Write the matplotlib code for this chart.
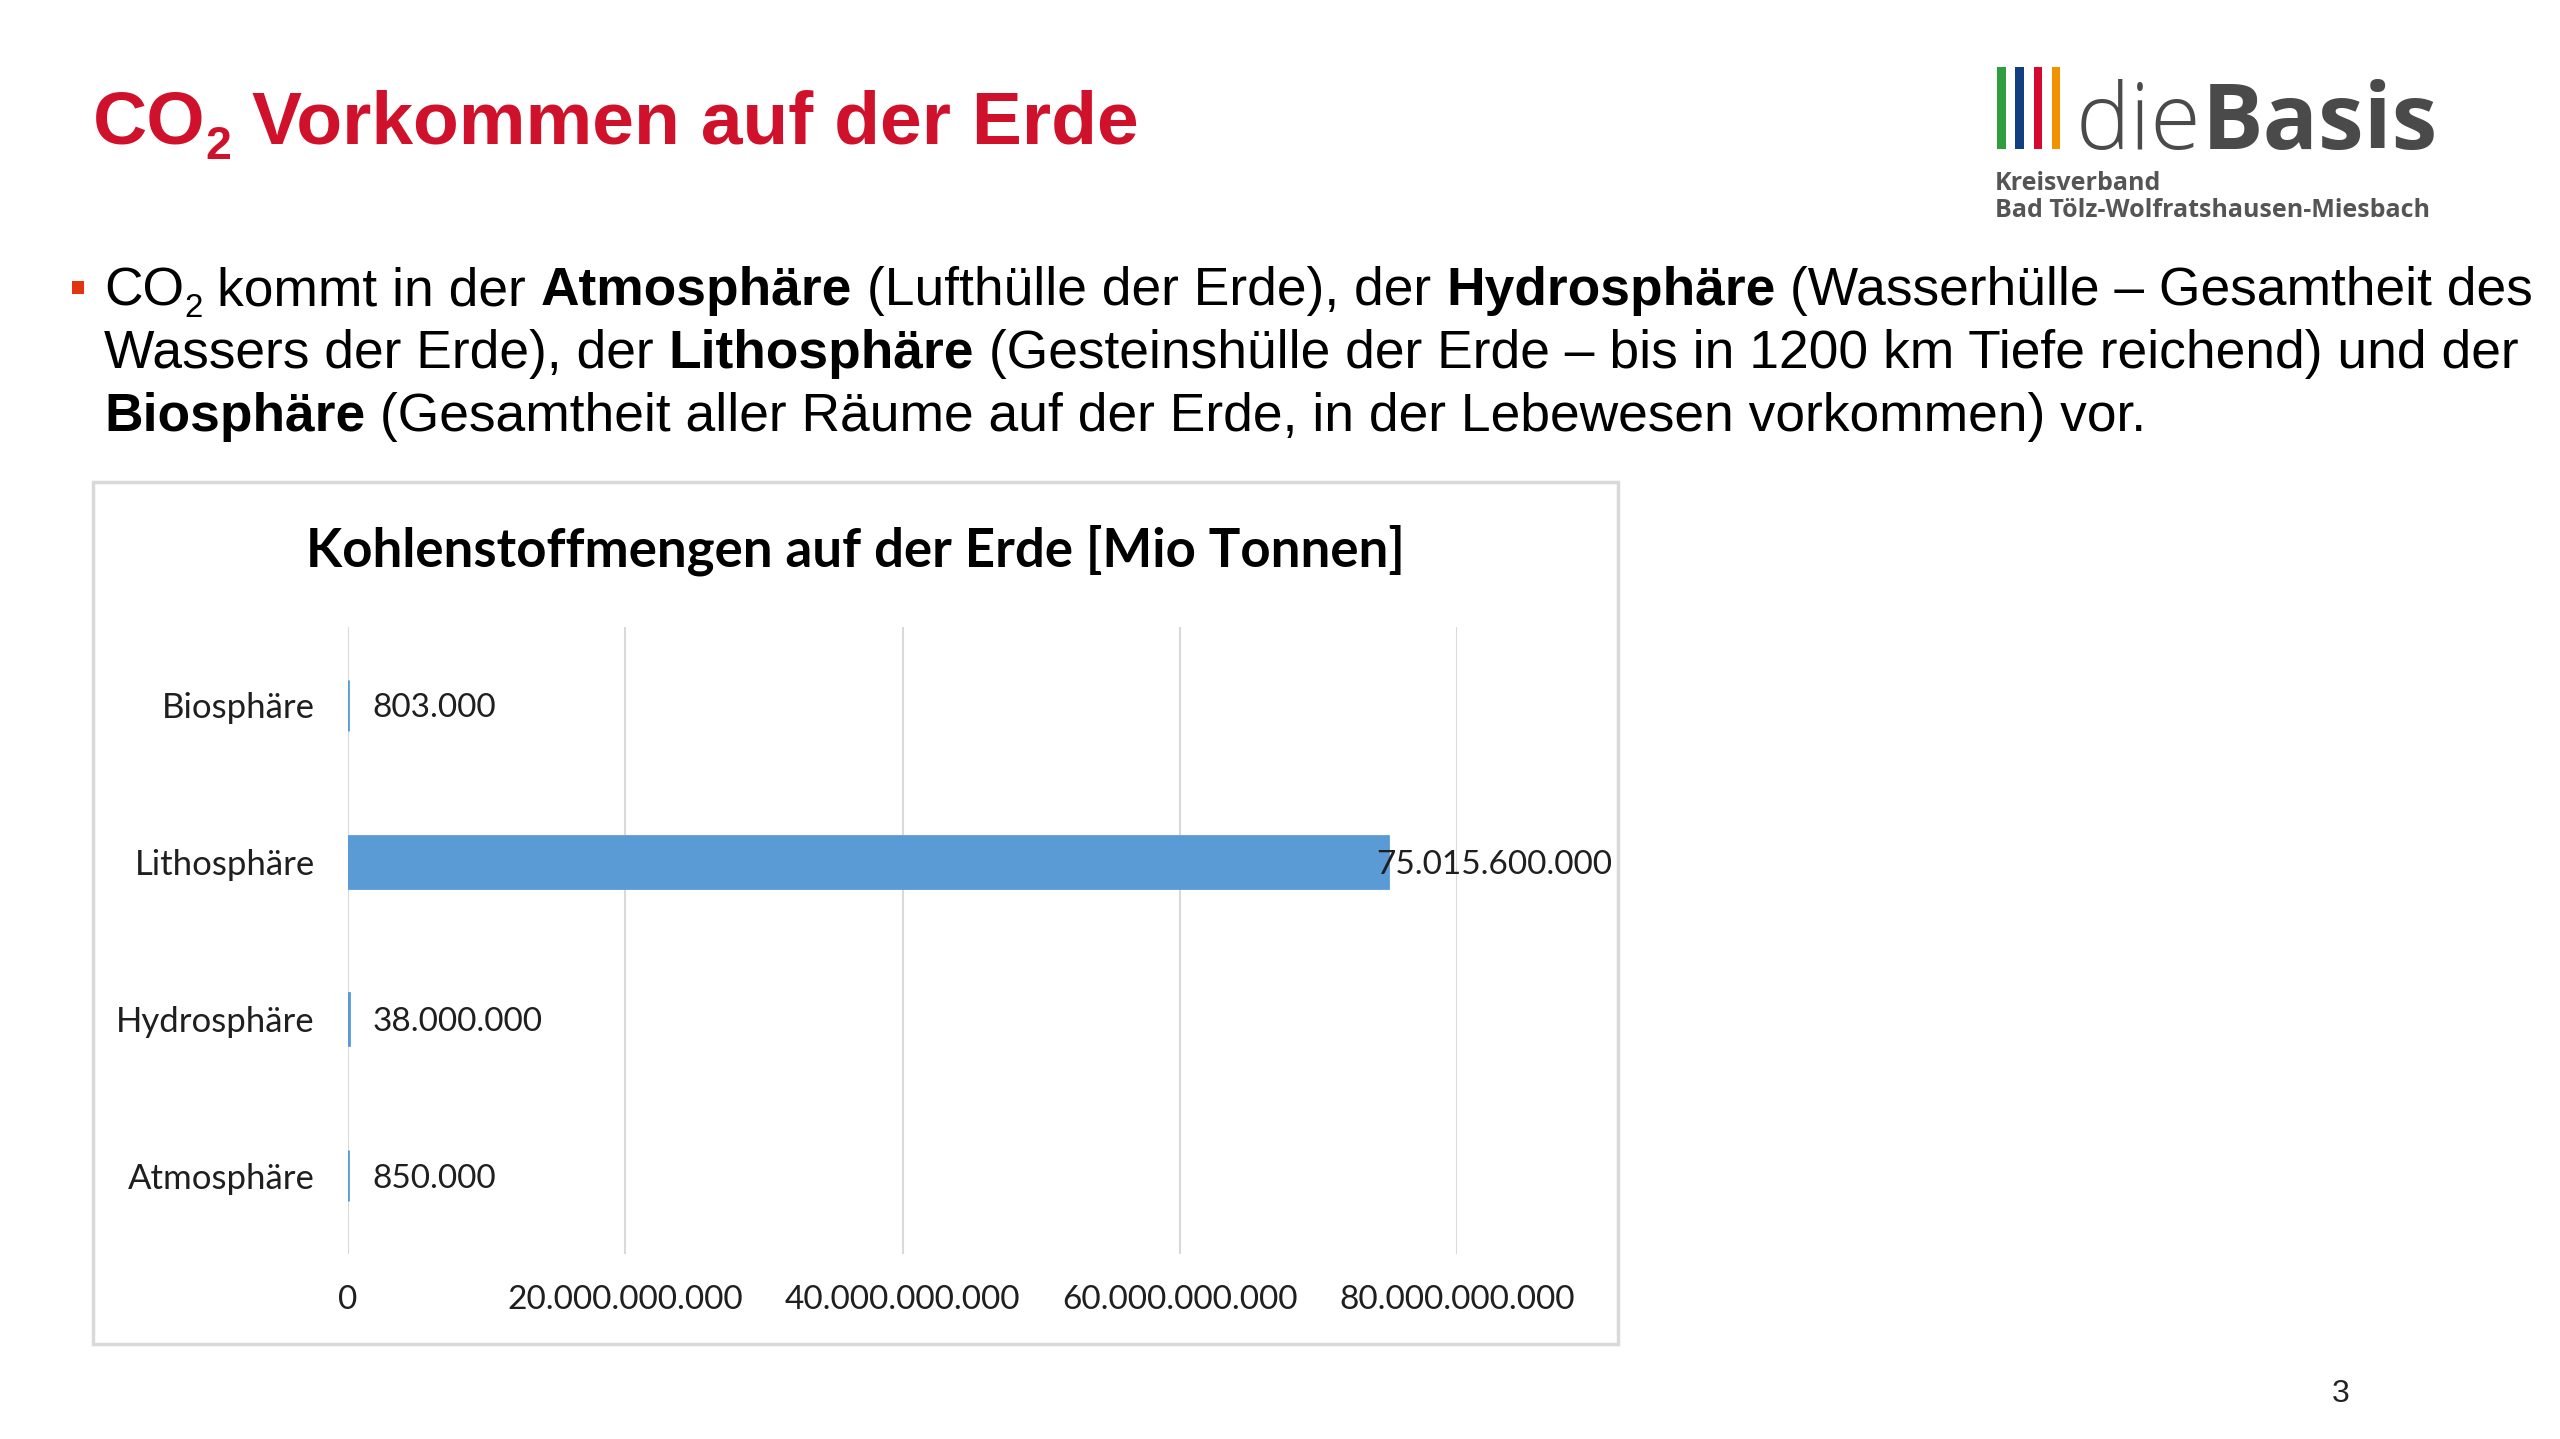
import matplotlib
matplotlib.use("Agg")
import matplotlib.pyplot as plt
from matplotlib.patches import Rectangle
from matplotlib.ticker import FuncFormatter

W, H = 2560, 1439

# chart data (values in Mio Tonnen), bottom to top as drawn
categories = ["Atmosphäre", "Hydrosphäre", "Lithosphäre", "Biosphäre"]
values = [850000, 38000000, 75015600000, 803000]
value_labels = ["850.000", "38.000.000", "75.015.600.000", "803.000"]
x_ticks = [0, 20e9, 40e9, 60e9, 80e9]

chart_title = "Kohlenstoffmengen auf der Erde [Mio Tonnen]"

# slide text: (text, weight, subscript)
title_runs = [("CO", "bold", False), ("2", "bold", True), (" Vorkommen auf der Erde", "bold", False)]
bullet_lines = [
    [("CO", "normal", False), ("2", "normal", True), (" kommt in der ", "normal", False),
     ("Atmosphäre", "bold", False), (" (Lufthülle der Erde), der ", "normal", False),
     ("Hydrosphäre", "bold", False), (" (Wasserhülle – Gesamtheit des", "normal", False)],
    [("Wassers der Erde), der ", "normal", False), ("Lithosphäre", "bold", False),
     (" (Gesteinshülle der Erde – bis in 1200 km Tiefe reichend) und der", "normal", False)],
    [("Biosphäre", "bold", False),
     (" (Gesamtheit aller Räume auf der Erde, in der Lebewesen vorkommen) vor.", "normal", False)],
]
logo_colors = ["#2E9E3E", "#123F7F", "#D5092F", "#F39200"]

SLIDE_FONT = "Liberation Sans"
CHART_FONT = "Lato"
LOGO_FONT = "Open Sans"

fig = plt.figure(figsize=(W / 100, H / 100), dpi=100)
renderer = fig.canvas.get_renderer()


def fx(x):
    return x / W


def fy(y):
    return 1 - y / H


def seg_width(s, **kw):
    # measure with bars around so spaces count
    t1 = fig.text(0, 0, "|" + s + "|", **kw)
    t2 = fig.text(0, 0, "||", **kw)
    w = t1.get_window_extent(renderer).width - t2.get_window_extent(renderer).width
    t1.remove()
    t2.remove()
    return w


def draw_runs(runs, x, y, size, color, family):
    for text, weight, sub in runs:
        fs = size * 0.62 if sub else size
        yy = y + size * 0.30 if sub else y
        kw = dict(fontsize=fs, fontweight=weight, family=family)
        stripped = text.lstrip(" ")
        lead = len(text) - len(stripped)
        if lead:
            x += seg_width(" " * lead, **kw)
        fig.text(fx(x), fy(yy), stripped, color=color, va="baseline", ha="left", **kw)
        x += seg_width(stripped, **kw)
    return x


# title
draw_runs(title_runs, 93, 143, 54, "#D0112B", SLIDE_FONT)

# bullet
fig.patches.append(Rectangle((fx(72), fy(294)), 12 / W, 13 / H, transform=fig.transFigure,
                             facecolor="#E2340F", edgecolor="none"))
for i, line in enumerate(bullet_lines):
    draw_runs(line, 104, 305 + i * 63, 38.4, "#000000", SLIDE_FONT)

# logo
for i, c in enumerate(logo_colors):
    fig.patches.append(Rectangle((fx(1997 + i * 18.3), fy(149)), 8.5 / W, 82 / H,
                                 transform=fig.transFigure, facecolor=c, edgecolor="none"))
xe = draw_runs([("die", "light", False)], 2076, 149, 66, "#4A4A4A", LOGO_FONT)
draw_runs([("Basis", "bold", False)], xe, 149, 66, "#4A4A4A", LOGO_FONT)
fig.text(fx(1995), fy(190), "Kreisverband", fontsize=18, fontweight="bold",
         family=LOGO_FONT, color="#555555", va="baseline")
fig.text(fx(1995), fy(217), "Bad Tölz-Wolfratshausen-Miesbach", fontsize=18,
         fontweight="bold", family=LOGO_FONT, color="#555555", va="baseline")

# page number
fig.text(fx(2332), fy(1402), "3", fontsize=23, family=SLIDE_FONT, color="#222222", va="baseline")

# chart frame
frame = Rectangle((fx(93), fy(1344)), (1618 - 93) / W, (1344 - 482) / H,
                  transform=fig.transFigure, facecolor="white",
                  edgecolor="#D9D9D9", linewidth=2.5, zorder=0)
fig.patches.append(frame)
fig.text(fx(855), fy(567), chart_title, fontsize=38, fontweight="bold", family=CHART_FONT,
         color="#000000", ha="center", va="baseline")

ax = fig.add_axes([fx(348), fy(1254), (1457 - 348) / W, (1254 - 627) / H])
ax.set_zorder(5)
ax.patch.set_alpha(0)
ax.barh(range(len(categories)), values, height=0.33, color="#5B9BD5",
        edgecolor="#5B9BD5", linewidth=2, zorder=3)
ax.set_xlim(0, 80e9)
ax.set_ylim(-0.5, len(categories) - 0.5)
ax.set_xticks(x_ticks)
ax.xaxis.set_major_formatter(FuncFormatter(lambda v, p: f"{int(v):,}".replace(",", ".")))
ax.set_yticks(range(len(categories)))
ax.set_yticklabels(categories)
ax.grid(axis="x", color="#D9D9D9", linewidth=1.5, zorder=0)
for s in ax.spines.values():
    s.set_visible(False)
ax.tick_params(axis="x", length=0, pad=22, labelsize=24, labelcolor="#1F1F1F")
ax.tick_params(axis="y", length=0, pad=24, labelsize=25, labelcolor="#1F1F1F")
for lab in ax.get_xticklabels() + ax.get_yticklabels():
    lab.set_family(CHART_FONT)

for i, (v, lab) in enumerate(zip(values, value_labels)):
    off = 24 if v < 1e10 else -12
    ax.annotate(lab, xy=(v, i), xytext=(off, 0), textcoords="offset pixels",
                va="center_baseline", ha="left", fontsize=24, family=CHART_FONT,
                color="#1F1F1F", annotation_clip=False, zorder=4)

fig.savefig("out.png", dpi=100, facecolor="white")
